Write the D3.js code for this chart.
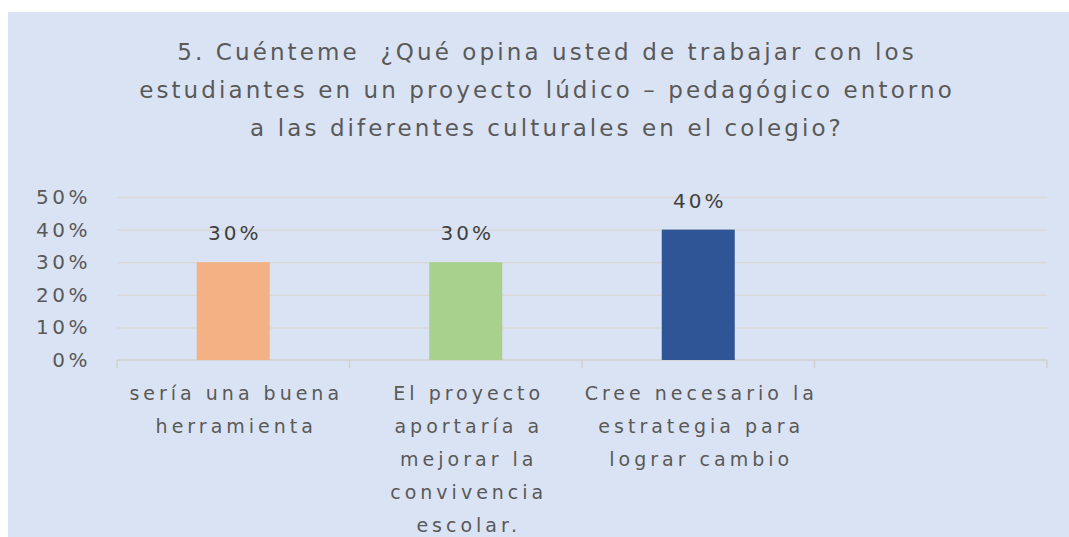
<!DOCTYPE html>
<html>
<head>
<meta charset="utf-8">
<script src="https://cdn.jsdelivr.net/npm/d3@7"></script>
<style>
  body { margin: 0; background: #ffffff; }
  svg { display: block; }
  text { font-family: "DejaVu Sans", sans-serif; white-space: pre; }
</style>
</head>
<body>
<div id="chart"></div>
<script>
// chart data
var titleLines = [
    "5. Cuénteme  ¿Qué opina usted de trabajar con los",
    "estudiantes en un proyecto lúdico – pedagógico entorno",
    "a las diferentes culturales en el colegio?"
];
var categories = ["c1", "c2", "c3", "c4"];
var categoryLabels = [
    ["sería una buena", "herramienta"],
    ["El proyecto", "aportaría a", "mejorar la", "convivencia", "escolar."],
    ["Cree necesario la", "estrategia para", "lograr cambio"],
    []
];
var values = [0.30, 0.30, 0.40, null];
var barColors = ["#f4b183", "#a9d18e", "#2f5597", "#999999"];
var yTicks = [0, 0.1, 0.2, 0.3, 0.4, 0.5];

var W = 1069, H = 537;
var margin = {left: 117, right: 22, top: 197, bottom: 177};
var width = W - margin.left - margin.right;
var height = H - margin.top - margin.bottom;

var svg = d3.select("#chart").append("svg")
    .attr("width", W)
    .attr("height", H);

// chart area background
svg.append("rect")
    .attr("x", 8).attr("y", 12)
    .attr("width", W - 8).attr("height", H - 12)
    .attr("fill", "#dae3f3");

// title (the original text is drawn wide, so letters get extra spacing)
svg.append("text")
    .attr("x", 547)
    .attr("y", 60)
    .attr("text-anchor", "middle")
    .style("font-size", "23px")
    .style("letter-spacing", "3.1px")
    .style("fill", "#595959")
    .selectAll("tspan")
    .data(titleLines)
    .enter().append("tspan")
    .attr("x", 547)
    .attr("dy", (d, i) => i === 0 ? 0 : 38)
    .text(d => d);

var g = svg.append("g")
    .attr("transform", "translate(" + margin.left + "," + margin.top + ")");

var xScale = d3.scaleBand()
    .domain(categories)
    .range([0, width]);

var yScale = d3.scaleLinear()
    .domain([0, 0.5])
    .range([height, 0]);

// horizontal grid lines
g.append("g")
    .attr("class", "grid")
    .call(d3.axisLeft(yScale).tickValues(yTicks.slice(1)).tickSize(-width).tickFormat(""))
    .call(s => s.select(".domain").remove())
    .selectAll("line")
    .attr("stroke", "#d9d9d9")
    .attr("stroke-width", 1.5);

// y axis labels
g.append("g")
    .attr("class", "y axis")
    .call(d3.axisLeft(yScale).tickValues(yTicks).tickSize(0).tickPadding(26).tickFormat(d3.format(".0%")))
    .call(s => s.select(".domain").remove())
    .selectAll("text")
    .style("font-family", "DejaVu Sans, sans-serif")
    .style("font-size", "20px")
    .style("letter-spacing", "3.5px")
    .style("fill", "#595959");

// x axis line with tick marks at the category borders
var xAxis = g.append("g")
    .attr("class", "x axis")
    .attr("transform", "translate(0," + height + ")");
xAxis.append("line")
    .attr("x1", 0).attr("x2", width)
    .attr("stroke", "#d0d0d0").attr("stroke-width", 1.5);
xAxis.selectAll(".tick-mark")
    .data(categories.concat(["end"]))
    .enter().append("line")
    .attr("x1", (d, i) => i < categories.length ? xScale(d) : width)
    .attr("x2", (d, i) => i < categories.length ? xScale(d) : width)
    .attr("y1", 0).attr("y2", 8)
    .attr("stroke", "#d0d0d0").attr("stroke-width", 1.5);

// category labels (wrapped as in the original)
xAxis.selectAll(".cat-label")
    .data(categories)
    .enter().append("text")
    .attr("class", "cat-label")
    .attr("text-anchor", "middle")
    .style("font-size", "19px")
    .style("letter-spacing", "4px")
    .style("fill", "#595959")
    .each(function(d, i) {
        d3.select(this).selectAll("tspan")
            .data(categoryLabels[i])
            .enter().append("tspan")
            .attr("x", xScale(d) + xScale.bandwidth() / 2 + 3)
            .attr("y", (t, j) => 40 + j * 33)
            .text(t => t);
    });

// bars
var barW = xScale.bandwidth() * 0.314;
var barData = categories.map((c, i) => ({cat: c, value: values[i], color: barColors[i]}))
    .filter(d => d.value !== null);

g.selectAll(".bar")
    .data(barData)
    .enter().append("rect")
    .attr("class", "bar")
    .attr("x", d => xScale(d.cat) + (xScale.bandwidth() - barW) / 2)
    .attr("width", barW)
    .attr("y", d => yScale(d.value))
    .attr("height", d => height - yScale(d.value))
    .attr("fill", d => d.color);

// value labels
g.selectAll(".val")
    .data(barData)
    .enter().append("text")
    .attr("class", "val")
    .attr("x", d => xScale(d.cat) + xScale.bandwidth() / 2 + 1.5)
    .attr("y", d => yScale(d.value) - 22)
    .attr("text-anchor", "middle")
    .style("font-size", "20px")
    .style("letter-spacing", "3px")
    .style("fill", "#404040")
    .text(d => d3.format(".0%")(d.value));
</script>
</body>
</html>
